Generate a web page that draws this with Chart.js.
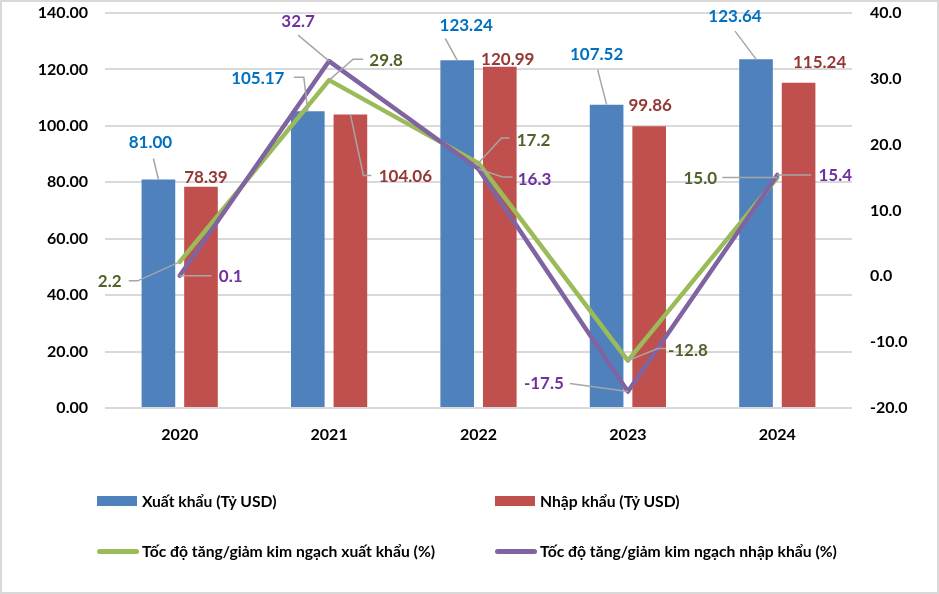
<!DOCTYPE html>
<html><head><meta charset="utf-8">
<script src="https://cdn.jsdelivr.net/npm/chart.js@4.4.1/dist/chart.umd.min.js"></script>
<style>
html,body{margin:0;padding:0;background:#fff;}
#wrap{position:relative;width:939px;height:594px;overflow:hidden;background:#fff;}
canvas{position:absolute;left:0;top:0;}
#frame{position:absolute;left:0;top:0;width:939px;height:594px;box-sizing:border-box;border:2px solid #D9D9D9;pointer-events:none;}
.lg{position:absolute;font:bold 15.7px Lato, sans-serif;color:#000;white-space:nowrap;line-height:20px;height:20px;}
.sw{position:absolute;}
</style></head><body>
<div id="wrap"><canvas id="c" width="939" height="594"></canvas>
<div id="legend"></div>
<div id="frame"></div></div>
<script>
// ---- data ----
const years = ['2020', '2021', '2022', '2023', '2024'];
const exportValues = [81.00, 105.17, 123.24, 107.52, 123.64];
const importValues = [78.39, 104.06, 120.99, 99.86, 115.24];
const exportGrowth = [2.2, 29.8, 17.2, -12.8, 15.0];
const importGrowth = [0.1, 32.7, 16.3, -17.5, 15.4];
const seriesNames = ['Xuất khẩu (Tỷ USD)', 'Nhập khẩu (Tỷ USD)',
  'Tốc độ tăng/giảm kim ngạch xuất khẩu (%)', 'Tốc độ tăng/giảm kim ngạch nhập khẩu (%)'];
const leftAxis = {min: 0, max: 140, step: 20, decimals: 2};
const rightAxis = {min: -20, max: 40, step: 10, decimals: 1};

// ---- label placement (offsets from the mark, plus leader path) ----
const labelLayout = [
  [[-8,-37,[[-5,-21]]], [-50,-33,[[-4,-34],[-14,-34]]], [9,-35,[[-12,-22]]], [-10,-50,[[-9,-35]]], [-21,-43,[[-21,-28]]]],
  [[5,-9,null], [55,62,[[13,61],[21,61]]], [8,-7,null], [1,-21,null], [21,-20,null]],
  [[-70,20,[[-42,19],[-51,19]]], [57,-20,[[24,-21],[34,-21]]], [55,-23,[[23,-25],[31,-25]]], [60,-10,[[30,-12],[38,-12]]], [-77,1,[[-55,0]]]],
  [[51,1,[[32,0]]], [-31,-40,[[-31,-26]]], [56,10,[[24,8],[34,8]]], [-84,-8,[[-58,-8]]], [58,1,[[34,0]]]]
];
const labelColors = ['#0070C0', '#953735', '#4F6228', '#7030A0'];
const labelDecimals = [2, 2, 1, 1];

const FONT = 'Lato, "Liberation Sans", sans-serif';

const labelPlugin = {
  id: 'dataLabels',
  afterDatasetsDraw(chart) {
    const ctx = chart.ctx;
    chart.data.datasets.forEach((ds, i) => {
      const meta = chart.getDatasetMeta(i);
      meta.data.forEach((el, j) => {
        const x = el.x, y = el.y;
        const [dx, dy, leader] = labelLayout[i][j];
        if (leader) {
          ctx.save();
          ctx.strokeStyle = '#A6A6A6';
          ctx.lineWidth = 1.5;
          ctx.beginPath();
          ctx.moveTo(x, y);
          leader.forEach(p => ctx.lineTo(x + p[0], y + p[1]));
          ctx.stroke();
          ctx.restore();
        }
        ctx.save();
        ctx.font = 'bold 17px ' + FONT;
        ctx.fillStyle = labelColors[i];
        ctx.textAlign = 'center';
        ctx.textBaseline = 'middle';
        ctx.fillText(ds.data[j].toFixed(labelDecimals[i]), x + dx, y + dy);
        ctx.restore();
      });
    });
  }
};

const colors = ['#4F81BD', '#C0504D', '#9BBB59', '#8064A2'];

function fixVertical(width) {
  return function (s) { s.width = width; s.paddingTop = 13; s.paddingBottom = 0; };
}

const chart = new Chart(document.getElementById('c'), {
  type: 'bar',
  data: {
    labels: years,
    datasets: [
      {type: 'bar', label: seriesNames[0], data: exportValues, backgroundColor: colors[0], yAxisID: 'y', order: 2,
        categoryPercentage: 0.57, barPercentage: 0.79},
      {type: 'bar', label: seriesNames[1], data: importValues, backgroundColor: colors[1], yAxisID: 'y', order: 3,
        categoryPercentage: 0.57, barPercentage: 0.79},
      {type: 'line', label: seriesNames[2], data: exportGrowth, borderColor: colors[2], backgroundColor: colors[2],
        borderWidth: 4.5, pointRadius: 0, tension: 0, yAxisID: 'y1', order: 1, borderJoinStyle: 'round', borderCapStyle: 'round'},
      {type: 'line', label: seriesNames[3], data: importGrowth, borderColor: colors[3], backgroundColor: colors[3],
        borderWidth: 4.5, pointRadius: 0, tension: 0, yAxisID: 'y1', order: 0, borderJoinStyle: 'round', borderCapStyle: 'round'}
    ]
  },
  options: {
    responsive: false,
    animation: false,
    devicePixelRatio: 1,
    layout: {padding: {top: 13, left: 0, right: 0, bottom: 0}},
    plugins: {legend: {display: false}, tooltip: {enabled: false}},
    scales: {
      x: {
        grid: {display: false, drawTicks: false},
        border: {display: false},
        ticks: {color: '#000', font: {family: FONT, size: 16, weight: 'bold'}, padding: 17},
        afterFit(s) { s.height = 186; s.paddingLeft = 0; s.paddingRight = 0; }
      },
      y: {
        position: 'left',
        min: leftAxis.min, max: leftAxis.max,
        grid: {color: '#D9D9D9', lineWidth: 2, drawTicks: false},
        border: {display: false},
        ticks: {stepSize: leftAxis.step, color: '#000', padding: 17,
          font: {family: FONT, size: 16, weight: 'bold'},
          callback: v => Number(v).toFixed(leftAxis.decimals)},
        afterFit: fixVertical(105)
      },
      y1: {
        position: 'right',
        min: rightAxis.min, max: rightAxis.max,
        grid: {display: false, drawTicks: false},
        border: {display: false},
        ticks: {stepSize: rightAxis.step, color: '#000', padding: 18,
          font: {family: FONT, size: 16, weight: 'bold'},
          callback: v => Number(v).toFixed(rightAxis.decimals)},
        afterFit: fixVertical(87)
      }
    }
  },
  plugins: [labelPlugin]
});

// ---- HTML legend built from the datasets ----
const legendPos = [[97, 501, 'box'], [495, 501, 'box'], [97, 551, 'line'], [495, 551, 'line']];
const lg = document.getElementById('legend');
chart.data.datasets.forEach((ds, i) => {
  const [lx, ly, kind] = legendPos[i];
  const sw = document.createElement('div');
  sw.className = 'sw';
  if (kind === 'box') {
    sw.style.cssText = `left:${lx}px;top:${ly-5}px;width:40px;height:10px;background:${colors[i]};`;
  } else {
    sw.style.cssText = `left:${lx}px;top:${ly-2}px;width:42px;height:5px;border-radius:3px;background:${colors[i]};`;
  }
  lg.appendChild(sw);
  const t = document.createElement('div');
  t.className = 'lg';
  t.textContent = ds.label;
  t.style.left = (lx + 45) + 'px';
  t.style.top = (ly - 10) + 'px';
  lg.appendChild(t);
});
</script>
</body></html>
